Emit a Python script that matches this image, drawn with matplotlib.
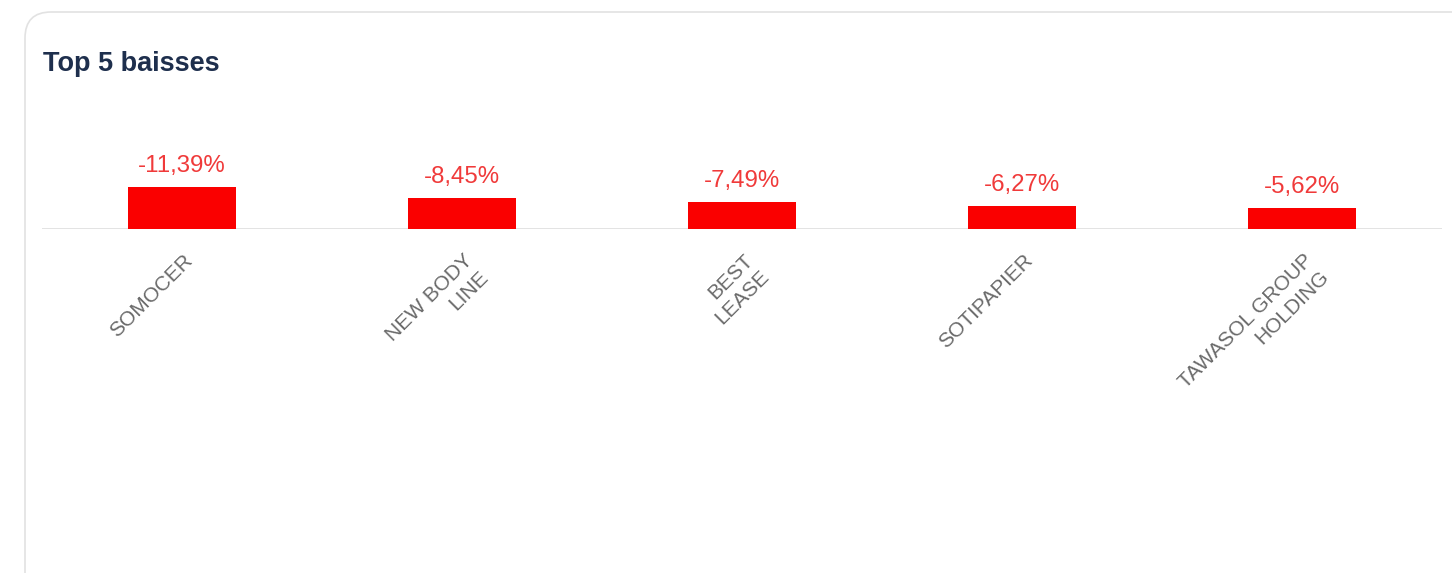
import matplotlib
matplotlib.use("Agg")
import matplotlib.pyplot as plt
from matplotlib.patches import FancyBboxPatch
import numpy as np

plt.rcParams['font.family'] = ['Liberation Sans', 'DejaVu Sans']

# ---- data ----
categories = ["SOMOCER", "NEW BODY\nLINE", "BEST\nLEASE", "SOTIPAPIER", "TAWASOL GROUP\nHOLDING"]
values = [-11.39, -8.45, -7.49, -6.27, -5.62]
value_labels = ["-11,39%", "-8,45%", "-7,49%", "-6,27%", "-5,62%"]
title = "Top 5 baisses"

W, H = 1452, 573
fig = plt.figure(figsize=(W / 100, H / 100), dpi=100)
fig.patch.set_facecolor("white")

# card border
card = FancyBboxPatch((25 / W, -0.2), 1.2, (H - 12) / H + 0.2,
                      boxstyle="round,pad=0,rounding_size=0.018",
                      transform=fig.transFigure, facecolor="none",
                      edgecolor="#e2e2e2", linewidth=1.2, mutation_aspect=W / H,
                      zorder=-10)
fig.patches.append(card)

fig.text(43 / W, 1 - 71 / H, title, fontsize=19.5, fontweight="bold",
         color="#1e2f4d", ha="left", va="baseline")

left, right = 42 / W, 1442 / W
bottom = (H - 229) / H
top = (H - 100) / H
ax = fig.add_axes([left, bottom, right - left, top - bottom])
ax.set_facecolor("none")
px_per_unit = 3.65
ax.set_xlim(-0.5, len(categories) - 0.5)
ax.set_ylim(0, (top - bottom) * H / px_per_unit)

x = np.arange(len(categories))
heights = np.abs(values)
ax.bar(x, heights, width=0.386, color="#fa0000", edgecolor="none", zorder=3)

for spine in ax.spines.values():
    spine.set_visible(False)
ax.axhline(0, color="#dedede", linewidth=1.2, zorder=2)
ax.set_xticks([])
ax.set_yticks([])

for xi, h, lab in zip(x, heights, value_labels):
    ax.annotate(lab, xy=(xi, h), xytext=(0, 15), textcoords="offset pixels",
                ha="center", va="baseline", fontsize=17.3, color="#f03a3a",
                annotation_clip=False)

for xi, cat in zip(x, categories):
    ax.annotate(cat, xy=(xi, 0), xytext=(1, -22), textcoords="offset pixels",
                ha="right", va="top", rotation=45, rotation_mode="anchor",
                multialignment="right", fontsize=15, color="#6a6a6a",
                linespacing=1.25, annotation_clip=False)

fig.savefig("out.png", dpi=100, facecolor="white")
